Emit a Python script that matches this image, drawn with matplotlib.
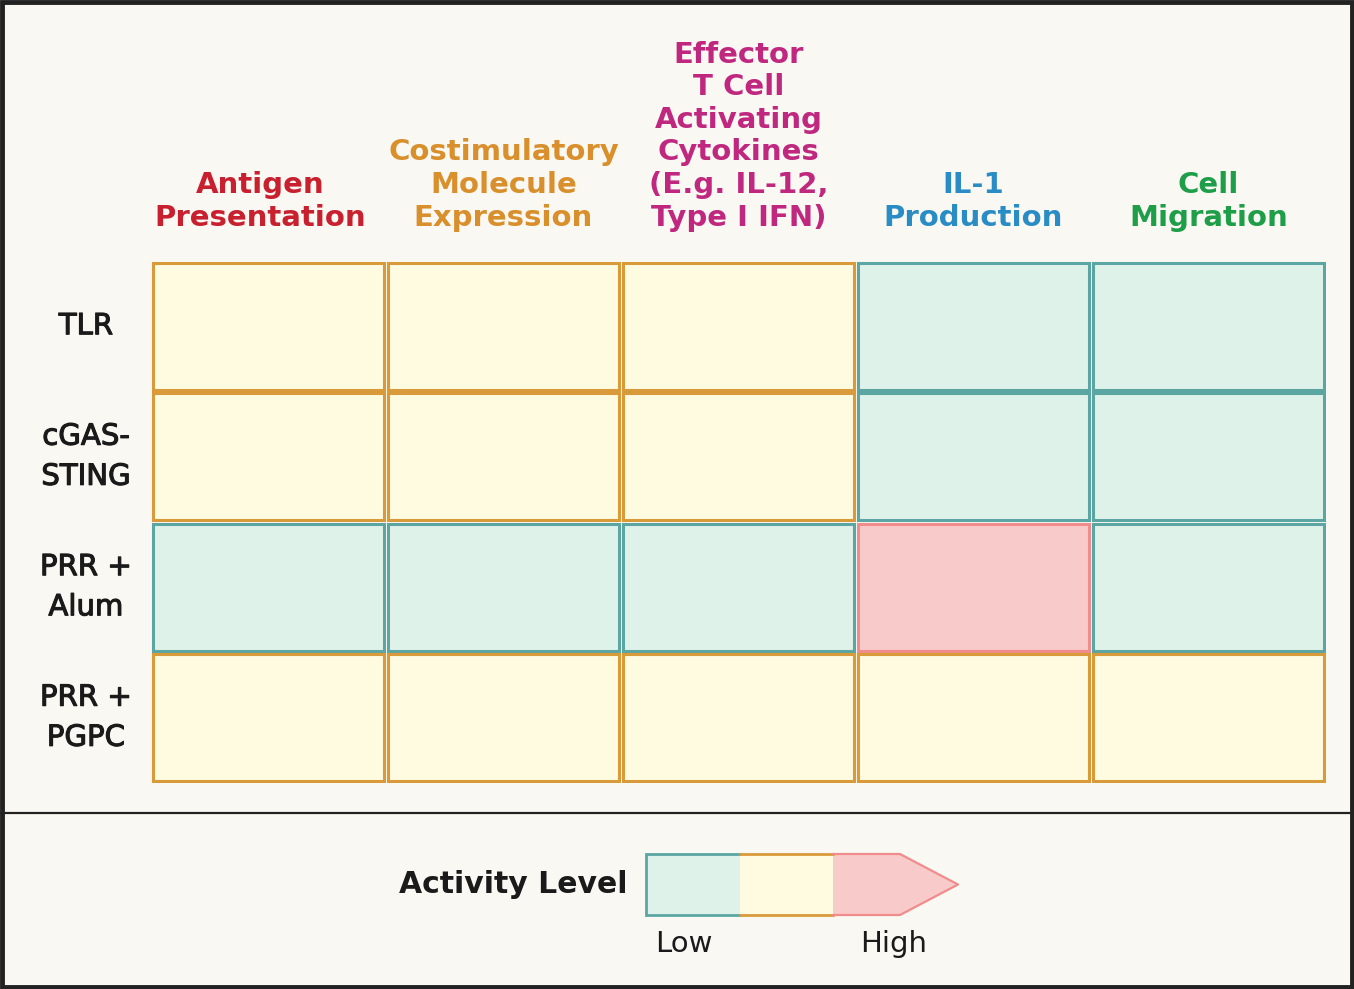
import matplotlib.pyplot as plt
import matplotlib.patheffects as pe
from matplotlib.patches import Rectangle, Polygon
from matplotlib.lines import Line2D

# --- datos ---
columnas = ["Antigen\nPresentation", "Costimulatory\nMolecule\nExpression",
            "Effector\nT Cell\nActivating\nCytokines\n(E.g. IL-12,\nType I IFN)",
            "IL-1\nProduction", "Cell\nMigration"]
colores_columnas = ["#C8202F", "#D98F2B", "#C0287F", "#2A8CC4", "#1E9E48"]
filas = ["TLR", "cGAS-\nSTING", "PRR +\nAlum", "PRR +\nPGPC"]
# 0 = low, 1 = medio, 2 = high
niveles = [
    [1, 1, 1, 0, 0],
    [1, 1, 1, 0, 0],
    [0, 0, 0, 2, 0],
    [1, 1, 1, 1, 1],
]
relleno = ["#DFF2E9", "#FFFBE0", "#F9CACA"]
borde = ["#5BA5A3", "#D99A3A", "#F08C8C"]
fondo = "#FAF8F2"
tinta = "#1a1a1a"

plt.rcParams["font.family"] = ["DejaVu Sans"]

W, H = 1354, 989
fig = plt.figure(figsize=(W / 100, H / 100), dpi=100, facecolor=fondo)

# --- heatmap ---
ax = fig.add_axes([151 / W, 1 - 783 / H, (1326 - 151) / W, (783 - 261) / H])
ax.set_xlim(0, len(columnas))
ax.set_ylim(len(filas), 0)
ax.axis("off")

gap = 0.008
for i, fila in enumerate(niveles):
    for j, v in enumerate(fila):
        ax.add_patch(Rectangle((j + gap, i + gap * 1.8), 1 - 2 * gap, 1 - 3.6 * gap,
                               facecolor=relleno[v], edgecolor=borde[v], linewidth=2.2))

for j, (nombre, c) in enumerate(zip(columnas, colores_columnas)):
    dx = -0.035 if j == 0 else 0
    ax.text(j + 0.5 + dx, -0.225, nombre, ha="center", va="bottom", color=c,
            fontsize=21, fontweight="bold", linespacing=1.21, clip_on=False)

semi = [pe.withStroke(linewidth=0.8, foreground=tinta)]
for i, nombre in enumerate(filas):
    ax.text(-0.277, i + 0.5, nombre, ha="center", va="center", color=tinta,
            fontsize=21, linespacing=1.55, clip_on=False, path_effects=semi)

# --- leyenda ---
lx0, lx1, ly0, ly1 = 646, 958, 854, 915
axl = fig.add_axes([lx0 / W, 1 - ly1 / H, (lx1 - lx0) / W, (ly1 - ly0) / H])
unidad = (833 - 646) / 2
xmax = (lx1 - lx0) / unidad
punta = (900 - 646) / unidad
axl.set_xlim(0, xmax)
axl.set_ylim(0, 1)
axl.axis("off")
axl.add_patch(Rectangle((0, 0), 1, 1, facecolor=relleno[0], edgecolor="none", clip_on=False))
axl.add_patch(Rectangle((1, 0), 1, 1, facecolor=relleno[1], edgecolor="none", clip_on=False))
axl.add_patch(Polygon([(2, 0), (punta, 0), (xmax, 0.5), (punta, 1), (2, 1)],
                      closed=True, facecolor=relleno[2], edgecolor="none", clip_on=False))
axl.plot([1, 0, 0, 1], [1, 1, 0, 0], color=borde[0], lw=2, clip_on=False,
         solid_joinstyle="miter")
axl.plot([1, 2], [1, 1], color=borde[1], lw=2, clip_on=False)
axl.plot([1, 2], [0, 0], color=borde[1], lw=2, clip_on=False)
axl.plot([2, punta, xmax, punta, 2], [1, 1, 0.5, 0, 0], color=borde[2], lw=1.6,
         clip_on=False)
axl.text(-0.2, 0.5, "Activity Level", ha="right", va="center", fontsize=21.5,
         fontweight="bold", color=tinta, clip_on=False)
axl.text(0.41, -0.47, "Low", ha="center", va="center", fontsize=21, color=tinta,
         clip_on=False)
axl.text(2.65, -0.47, "High", ha="center", va="center", fontsize=21, color=tinta,
         clip_on=False)

# --- marco y divisor ---
fig.add_artist(Rectangle((0.0015, 0.002), 0.997, 0.996, transform=fig.transFigure,
                         facecolor="none", edgecolor="#222222", linewidth=3.5))
fig.add_artist(Line2D([0, 1], [1 - 813 / H, 1 - 813 / H], transform=fig.transFigure,
                      color="#222222", linewidth=1.6))

fig.savefig("out.png", dpi=100, facecolor=fondo)
